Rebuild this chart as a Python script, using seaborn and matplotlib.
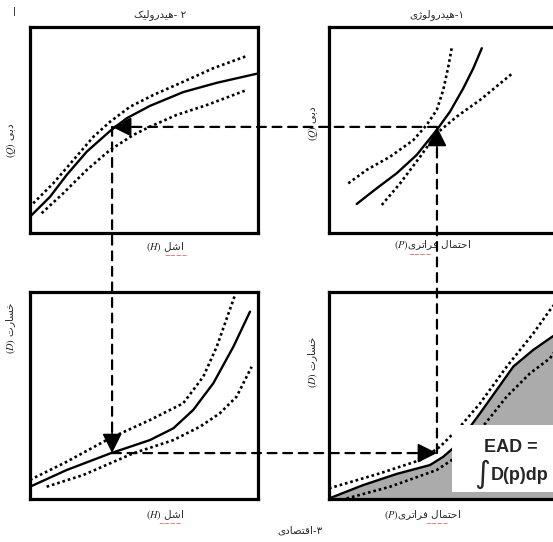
import numpy as np
import pandas as pd
import matplotlib
matplotlib.use("Agg")
import matplotlib.pyplot as plt
import seaborn as sns
from matplotlib.patches import ConnectionPatch, Rectangle

# ---- data (each panel in 0..10 units) ----
# 1 - hydrology: discharge Q vs exceedance probability P
hyd_x = [1.15, 1.98, 2.81, 3.64, 4.47, 5.02, 5.57, 5.99, 6.34]
hyd_y = [1.41, 2.17, 2.90, 3.79, 5.00, 5.89, 7.02, 8.00, 8.97]
hyd_up_x = [0.80, 1.56, 2.53, 3.50, 4.05, 4.47, 4.74, 4.95, 5.09]
hyd_up_y = [2.41, 3.06, 3.70, 4.51, 5.24, 5.97, 6.94, 8.07, 8.97]
hyd_lo_x = [2.19, 2.95, 3.78, 4.47, 5.30, 6.27, 7.58]
hyd_lo_y = [1.36, 2.41, 3.70, 4.84, 5.65, 6.46, 7.72]

# 2 - hydraulic: discharge Q vs stage H
rat_x = [0.00, 0.88, 1.61, 2.49, 3.51, 4.24, 5.26, 6.72, 8.19, 9.94]
rat_y = [0.79, 1.76, 2.82, 3.95, 4.95, 5.57, 6.17, 6.84, 7.29, 7.73]
rat_up_x = [0.14, 1.02, 1.90, 2.78, 3.51, 4.39, 5.41, 6.72, 8.04, 9.50]
rat_up_y = [1.44, 2.41, 3.54, 4.67, 5.40, 6.13, 6.70, 7.34, 8.00, 8.59]
rat_lo_x = [0.51, 1.46, 2.49, 3.51, 4.53, 5.26, 6.43, 7.75, 9.50]
rat_lo_y = [0.96, 1.93, 3.06, 4.03, 4.76, 5.16, 5.73, 6.21, 6.94]

# 3 - economic: damage D vs stage H
dmg_x = [0.00, 1.61, 3.51, 5.26, 6.29, 7.16, 8.04, 8.92, 9.65]
dmg_y = [0.57, 1.38, 2.18, 2.83, 3.40, 4.29, 5.58, 7.35, 9.05]
dmg_up_x = [0.00, 1.61, 3.51, 5.26, 6.72, 7.60, 8.19, 8.99]
dmg_up_y = [0.90, 1.78, 2.92, 3.80, 4.61, 5.90, 7.35, 9.85]
dmg_lo_x = [0.73, 2.34, 4.53, 6.29, 7.46, 8.33, 9.06, 9.72]
dmg_lo_y = [0.57, 1.14, 2.19, 2.83, 3.48, 4.13, 4.93, 6.38]

# damage vs exceedance probability (EAD)
ead_x = [0.00, 1.42, 2.81, 4.19, 4.74, 5.30, 6.27, 6.96, 7.65, 8.48, 9.17, 9.60]
ead_y = [0.00, 0.65, 1.19, 1.62, 2.02, 2.59, 4.13, 5.26, 6.39, 7.20, 7.76, 8.10]
ead_up_x = [0.00, 2.12, 3.78, 4.61, 5.44, 6.27, 7.37, 8.48, 9.17, 9.60]
ead_up_y = [0.49, 1.22, 1.86, 2.51, 3.48, 4.61, 6.38, 8.00, 9.13, 9.75]
ead_lo_x = [0.73, 2.53, 4.47, 5.30, 6.27, 7.37, 8.34, 9.17, 9.60]
ead_lo_y = [0.00, 0.57, 1.38, 2.02, 3.32, 4.93, 6.06, 6.79, 7.50]

# design event that links the four panels
p0, q0, h0, d0 = 4.48, 5.15, 3.60, 2.20

# ---- labels ----
titles = ["۲ -هیدرولیک", "۱-هیدرولوژی", "۳-اقتصادی"]
lbl_q = "دبی"
lbl_h = "اشل"
lbl_p = "احتمال فراتری"
lbl_d = "خسارت"

# presentation forms: isolated, final, initial, medial
FORMS = {
    "ا": ("\uFE8D", "\uFE8E", None, None),
    "ب": ("\uFE8F", "\uFE90", "\uFE91", "\uFE92"),
    "ت": ("\uFE95", "\uFE96", "\uFE97", "\uFE98"),
    "ح": ("\uFEA1", "\uFEA2", "\uFEA3", "\uFEA4"),
    "خ": ("\uFEA5", "\uFEA6", "\uFEA7", "\uFEA8"),
    "د": ("\uFEA9", "\uFEAA", None, None),
    "ر": ("\uFEAD", "\uFEAE", None, None),
    "ژ": ("\uFB8A", "\uFB8B", None, None),
    "س": ("\uFEB1", "\uFEB2", "\uFEB3", "\uFEB4"),
    "ش": ("\uFEB5", "\uFEB6", "\uFEB7", "\uFEB8"),
    "ص": ("\uFEB9", "\uFEBA", "\uFEBB", "\uFEBC"),
    "ف": ("\uFED1", "\uFED2", "\uFED3", "\uFED4"),
    "ق": ("\uFED5", "\uFED6", "\uFED7", "\uFED8"),
    "ک": ("\uFB8E", "\uFB8F", "\uFB90", "\uFB91"),
    "ل": ("\uFEDD", "\uFEDE", "\uFEDF", "\uFEE0"),
    "م": ("\uFEE1", "\uFEE2", "\uFEE3", "\uFEE4"),
    "و": ("\uFEED", "\uFEEE", None, None),
    "ه": ("\uFEE9", "\uFEEA", "\uFEEB", "\uFEEC"),
    "ی": ("\uFBFC", "\uFBFD", "\uFBFE", "\uFBFF"),
}


def fa(text):
    # shape persian letters and flip to visual order
    out = []
    for i, c in enumerate(text):
        if c not in FORMS:
            out.append(c)
            continue
        prv = text[i - 1] if i > 0 else None
        nxt = text[i + 1] if i + 1 < len(text) else None
        j_prev = prv in FORMS and FORMS[prv][2] is not None
        j_next = nxt in FORMS and FORMS[c][2] is not None
        iso, fin, ini, med = FORMS[c]
        if j_prev and j_next:
            out.append(med)
        elif j_prev:
            out.append(fin)
        elif j_next:
            out.append(ini)
        else:
            out.append(iso)
    return "".join(reversed(out))


sns.set_theme(style="white")
plt.rcParams["font.family"] = ["DejaVu Sans"]
plt.rcParams["mathtext.fontset"] = "stix"

W, H = 553, 542
fig = plt.figure(figsize=(W / 100, H / 100), dpi=100)


def px_axes(left, top, right, bottom):
    return fig.add_axes([left / W, 1 - bottom / H, (right - left) / W, (bottom - top) / H])


ax_tl = px_axes(30, 27, 258, 233)
ax_tr = px_axes(329, 27, 570, 233)
ax_bl = px_axes(30, 292, 258, 498.5)
ax_br = px_axes(329, 292, 570, 498.5)

solid = dict(color="black", lw=1.7)
dotted = dict(color="black", lw=1.9, linestyle=(0, (1, 1.1)))


def draw_curves(ax, mid, up, lo):
    sns.lineplot(x=mid[0], y=mid[1], ax=ax, sort=False, estimator=None, zorder=3, **solid)
    sns.lineplot(x=up[0], y=up[1], ax=ax, sort=False, estimator=None, zorder=3, **dotted)
    sns.lineplot(x=lo[0], y=lo[1], ax=ax, sort=False, estimator=None, zorder=3, **dotted)


draw_curves(ax_tr, (hyd_x, hyd_y), (hyd_up_x, hyd_up_y), (hyd_lo_x, hyd_lo_y))
draw_curves(ax_tl, (rat_x, rat_y), (rat_up_x, rat_up_y), (rat_lo_x, rat_lo_y))
draw_curves(ax_bl, (dmg_x, dmg_y), (dmg_up_x, dmg_up_y), (dmg_lo_x, dmg_lo_y))
draw_curves(ax_br, (ead_x, ead_y), (ead_up_x, ead_up_y), (ead_lo_x, ead_lo_y))

ax_br.fill_between(ead_x, ead_y, 0, color="#ababab", lw=0, zorder=1)

for ax in [ax_tl, ax_tr, ax_bl, ax_br]:
    ax.set_xlim(0, 10)
    ax.set_ylim(0, 10)
    ax.set_xticks([])
    ax.set_yticks([])
    ax.set_xlabel("")
    ax.set_ylabel("")
    for s in ax.spines.values():
        s.set_linewidth(2.3)
        s.set_color("black")

# EAD box
ax_br.add_patch(Rectangle((0.51, 0.03), 0.6, 0.325, transform=ax_br.transAxes,
                          facecolor="white", edgecolor="none", zorder=4))
ax_br.text(0.755, 0.245, "EAD =", transform=ax_br.transAxes, ha="center", va="center",
           fontsize=13, fontweight="bold", family="Liberation Sans", zorder=5)
ax_br.text(0.79, 0.11, "D(p)dp", transform=ax_br.transAxes, ha="center", va="center",
           fontsize=13, fontweight="bold", family="Liberation Sans", zorder=5)
ax_br.text(0.635, 0.115, "∫", transform=ax_br.transAxes, ha="center", va="center",
           fontsize=22, family="DejaVu Sans", zorder=5)

# dashed links between the panels
dash = dict(color="black", lw=1.6, linestyle=(0, (4, 3)), zorder=6)
links = [
    ((p0, d0), ax_br, (p0, q0), ax_tr),
    ((p0, q0), ax_tr, (h0, q0), ax_tl),
    ((h0, q0), ax_tl, (h0, d0), ax_bl),
    ((h0, d0), ax_bl, (p0, d0), ax_br),
]
for a, axa, b, axb in links:
    con = ConnectionPatch(xyA=a, coordsA=axa.transData, xyB=b, coordsB=axb.transData, **dash)
    fig.add_artist(con)

head = dict(arrowstyle="-|>,head_length=1.0,head_width=0.5", mutation_scale=12,
            color="black", lw=1.2, shrinkA=0, shrinkB=0)
ax_tr.annotate("", xy=(p0, q0), xytext=(0, -16), textcoords="offset points", arrowprops=head, zorder=7)
ax_tl.annotate("", xy=(h0, q0), xytext=(16, 0), textcoords="offset points", arrowprops=head, zorder=7)
ax_bl.annotate("", xy=(h0, d0), xytext=(0, 16), textcoords="offset points", arrowprops=head, zorder=7)
ax_br.annotate("", xy=(p0, d0), xytext=(-16, 0), textcoords="offset points", arrowprops=head, zorder=7)


def ftext(x, y, s, **kw):
    fig.text(x / W, 1 - y / H, s, ha="center", va="center", fontsize=7.5, **kw)


ftext(160, 15, fa(titles[0]))
ftext(437, 15, fa(titles[1]))
ftext(300, 531, fa(titles[2]))

ftext(11, 140, "$(Q)$ " + fa(lbl_q), rotation=90)
ftext(313, 123, "$(Q)$ " + fa(lbl_q), rotation=90)
ftext(11, 328, "$(D)$ " + fa(lbl_d), rotation=90)
ftext(313, 362, "$(D)$ " + fa(lbl_d), rotation=90)

ftext(165, 247, "$(H)$ " + fa(lbl_h))
ftext(165, 515, "$(H)$ " + fa(lbl_h))
ftext(433, 245, "$(P)$" + fa(lbl_p))
ftext(423, 515, "$(P)$" + fa(lbl_p))

# spell-check squiggles under the labels
for x, y in [(176, 256), (420, 255), (170, 524), (437, 524)]:
    fig.text(x / W, 1 - y / H, "~~~~", color="#d02020", fontsize=5, ha="center", va="center")

fig.text(15 / W, 1 - 12 / H, "|", fontsize=6, fontweight="bold", ha="center", va="center")

plt.savefig("out.png", dpi=100)
